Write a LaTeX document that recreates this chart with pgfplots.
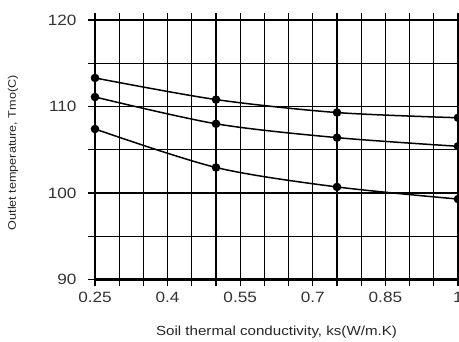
\documentclass[border=0pt]{standalone}
\usepackage{fontspec}
\setmainfont{Liberation Sans}[FakeStretch=1.15]
\usepackage{pgfplots}
\pgfplotsset{compat=1.18}
\begin{document}
\begin{tikzpicture}[x=1bp,y=1bp]
\begin{axis}[
  scale only axis,
  width=363bp, height=259.5bp,
  xmin=0.25, xmax=1, ymin=90, ymax=120,
  xtick={0.25,0.3,0.35,0.4,0.45,0.5,0.55,0.6,0.65,0.7,0.75,0.8,0.85,0.9,0.95,1},
  xticklabels={0.25,,,0.4,,,0.55,,,0.7,,,0.85,,,1},
  ytick={90,95,100,105,110,115,120},
  yticklabels={90,,100,,110,,120},
  grid=major,
  major grid style={black, line width=1.3bp},
  tick align=outside,
  major tick length=7bp,
  every tick/.style={black, line width=1.3bp},
  axis line style={black, line width=2.2bp},
  /pgf/number format/assume math mode=true,
  tick label style={font=\fontsize{15}{17}\selectfont, text=black!80},
  xticklabel style={yshift=-2bp},
  yticklabel style={xshift=-8bp},
  xlabel={Soil thermal conductivity, ks(W/m.K)},
  ylabel={Outlet temperature, Tmo(C)},
  xlabel style={font=\fontsize{13.2}{15}\selectfont, text=black!85, at={([yshift=-53bp]axis description cs:0.5,0)}, anchor=center},
  ylabel style={font=\fontsize{11}{13}\selectfont, text=black!85, at={([xshift=-82bp,yshift=-3bp]axis description cs:0,0.5)}, anchor=center},
  clip=false,
]
\addplot[black, line width=1.5bp, smooth, mark=*, mark size=3.5bp] coordinates {
  (0.25,113.3) (0.5,110.8) (0.75,109.3) (1.0,108.7)};
\addplot[black, line width=1.5bp, smooth, mark=*, mark size=3.5bp] coordinates {
  (0.25,111.1) (0.5,108.0) (0.75,106.4) (1.0,105.4)};
\addplot[black, line width=1.5bp, smooth, mark=*, mark size=3.5bp] coordinates {
  (0.25,107.4) (0.5,102.95) (0.75,100.7) (1.0,99.3)};
\end{axis}
\pgfresetboundingbox
\path[use as bounding box] ([shift={(-95bp,-62bp)}]current axis.south west) rectangle ([shift={(1bp,20bp)}]current axis.north east);
\end{tikzpicture}
\end{document}
